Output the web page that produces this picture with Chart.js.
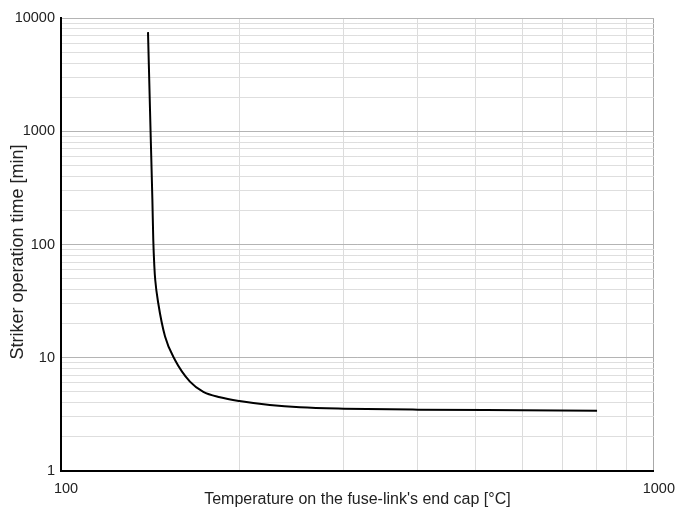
<!DOCTYPE html>
<html>
<head>
<meta charset="utf-8">
<script src="https://cdn.jsdelivr.net/npm/chart.js@4/dist/chart.umd.min.js"></script>
<style>
  html, body { margin: 0; padding: 0; background: #fff; }
  #wrap { width: 679px; height: 511px; }
</style>
</head>
<body>
<div id="wrap"><canvas id="c"></canvas></div>
<script>
// curve (temperature in °C, time in min)
const temps = [140.2, 141.6, 142.6, 143.1, 143.7, 144.2, 145.9, 149.8, 155.7, 165, 173.8, 185.4, 200, 225, 253, 300, 400, 600, 802]
const times = [7500, 1000, 250, 110, 64, 48.6, 30.3, 15.4, 9.55, 6.15, 5.0, 4.48, 4.15, 3.83, 3.65, 3.55, 3.48, 3.44, 3.41]

const xTicks = [100, 200, 300, 400, 500, 600, 700, 800, 900, 1000]
const yTicks = [1, 2, 3, 4, 5, 6, 7, 8, 9,
  10, 20, 30, 40, 50, 60, 70, 80, 90,
  100, 200, 300, 400, 500, 600, 700, 800, 900,
  1000, 2000, 3000, 4000, 5000, 6000, 7000, 8000, 9000, 10000]
const labelled = [1, 10, 100, 1000, 10000]

const FONT = '"Liberation Sans", Arial, Helvetica, sans-serif'

const isDecade = v => labelled.includes(v)

new Chart(document.getElementById('c'), {
  type: 'line',
  data: {
    datasets: [{
      data: temps.map((t, i) => ({ x: t, y: times[i] })),
      borderColor: '#000',
      borderWidth: 2,
      pointRadius: 0,
      cubicInterpolationMode: 'monotone',
      fill: false
    }]
  },
  options: {
    responsive: true,
    maintainAspectRatio: false,
    animation: false,
    layout: { padding: { top: 18, right: 25, left: 0, bottom: 0 } },
    plugins: { legend: { display: false }, tooltip: { enabled: false } },
    scales: {
      x: {
        type: 'logarithmic',
        min: 100,
        max: 1000,
        afterBuildTicks: s => { s.ticks = xTicks.map(v => ({ value: v })) },
        afterFit: s => { s.height = 40 },
        border: { color: '#000', width: 2 },
        grid: {
          drawTicks: false,
          color: ctx => ctx.tick && ctx.tick.value === 1000 ? '#a8a8a8' : '#dcdcdc',
          lineWidth: 1
        },
        ticks: {
          autoSkip: false,
          maxRotation: 0,
          padding: 9,
          labelOffset: 5,
          color: '#222',
          font: { family: FONT, size: 14.5 },
          callback: v => isDecade(v) ? String(v) : ''
        },
        title: {
          display: true,
          text: "Temperature on the fuse-link's end cap [°C]",
          color: '#222',
          font: { family: FONT, size: 16 },
          padding: { top: 0, bottom: 2 }
        }
      },
      y: {
        type: 'logarithmic',
        min: 1,
        max: 10000,
        afterBuildTicks: s => { s.ticks = yTicks.map(v => ({ value: v })) },
        afterFit: s => { s.width = 61 },
        border: { color: '#000', width: 2 },
        grid: {
          drawTicks: false,
          color: ctx => ctx.tick && isDecade(ctx.tick.value) ? '#b4b4b4' : '#dedede',
          lineWidth: 1
        },
        ticks: {
          autoSkip: false,
          padding: 6,
          color: '#222',
          font: { family: FONT, size: 14.5 },
          callback: v => isDecade(v) ? String(v) : ''
        },
        title: {
          display: true,
          text: 'Striker operation time [min]   ',
          color: '#222',
          font: { family: FONT, size: 18 },
          padding: { top: 7, bottom: 0 }
        }
      }
    }
  }
})
</script>
</body>
</html>
